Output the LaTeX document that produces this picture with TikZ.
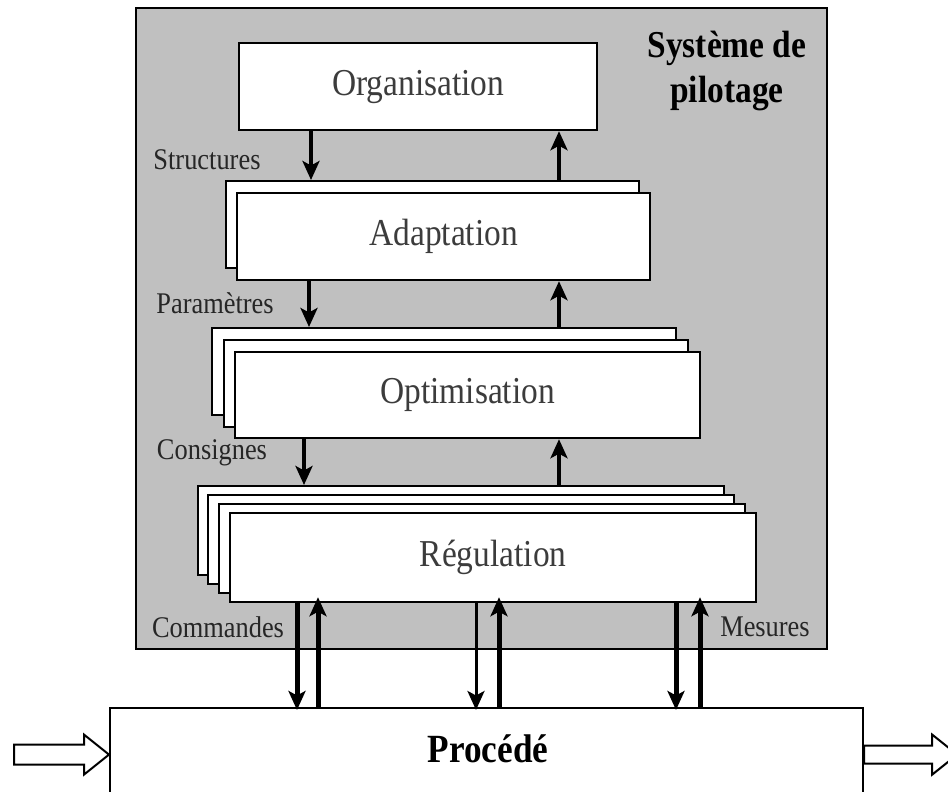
\documentclass[tikz,border=0pt]{standalone}
\usepackage{fontspec}
\setmainfont{Liberation Serif}[FakeStretch=0.88]
\usetikzlibrary{arrows.meta,calc}
\definecolor{panelgray}{RGB}{192,192,192}
\definecolor{labelgray}{RGB}{60,60,60}
\begin{document}
\begin{tikzpicture}[x=1pt,y=-1pt,
  box/.style={draw=black,fill=white,line width=2.2pt,inner sep=0pt,anchor=north west,
    text=labelgray,font=\fontsize{38}{42}\selectfont},
  panel/.style={draw=black,fill=panelgray,line width=2.2pt},
  lbl/.style={text=black!85,font=\fontsize{30}{34}\selectfont,inner sep=0pt},
  blbl/.style={font=\bfseries\fontsize{38}{45}\selectfont,align=center,inner sep=0pt},
  tip/.style={-{Stealth[length=19pt,width=17pt,inset=4.5pt]}},
  arr/.style={tip,line width=3.5pt},
  thickarr/.style={tip,line width=5pt},
  thinarr/.style={tip,line width=3pt},
  hollow/.style={draw=black,fill=white,line width=2pt,line join=miter}]
\useasboundingbox (0,0) rectangle (948,792);
\fill[white] (0,0) rectangle (948,792);
% control system panel
\draw[panel] (136,8) rectangle (827,649);
\node[blbl] (title) at (727,71) {Système de\\pilotage};
% Organisation
\node[box,minimum width=358pt,minimum height=87pt] (org) at (238,42) {Organisation};
% Adaptation stack
\node[box,minimum width=413pt,minimum height=87pt] (adab) at (225,180) {};
\node[box,minimum width=413pt,minimum height=87pt] (ada) at (236,192) {Adaptation};
% Optimisation stack
\node[box,minimum width=464pt,minimum height=87pt] (optb) at (211,327) {};
\node[box,minimum width=464pt,minimum height=87pt] (optm) at (223,339) {};
\node[box,minimum width=465pt,minimum height=86pt] (opt) at (234,351) {Optimisation};
% Regulation stack
\node[box,minimum width=526pt,minimum height=89pt] (regb) at (197,485) {};
\node[box,minimum width=526pt,minimum height=89pt] (reg3) at (207,494) {};
\node[box,minimum width=526pt,minimum height=89pt] (reg2) at (218,503) {};
\node[box,minimum width=526pt,minimum height=89pt] (reg) at (229,512) {Régulation};
% Procede
\node[draw=black,fill=white,line width=2.2pt,anchor=north west,minimum width=753pt,
  minimum height=93pt,inner sep=0pt] (proc) at (109,707) {};
\node[font=\bfseries\fontsize{40}{44}\selectfont,inner sep=0pt] (proctxt) at (488,749) {Procédé};
% labels
\node[lbl] (lstr) at (207,160) {Structures};
\node[lbl] (lpar) at (215,303) {Paramètres};
\node[lbl] (lcon) at (212,453) {Consignes};
\node[lbl] (lcom) at (218,627) {Commandes};
\node[lbl] (lmes) at (765,627) {Mesures};
% arrows between levels
\draw[arr] (org.south -| 311,0) -- (adab.north -| 311,0);
\draw[arr] (adab.north -| 559,0) -- (org.south -| 559,0);
\draw[arr] (ada.south -| 309,0) -- (optb.north -| 309,0);
\draw[arr] (optb.north -| 559,0) -- (ada.south -| 559,0);
\draw[arr] (opt.south -| 304,0) -- (regb.north -| 304,0);
\draw[arr] (regb.north -| 559,0) -- (opt.south -| 559,0);
% arrows to/from process
\draw[thickarr,shorten >=-3pt] (reg.south -| 297,0) -- (proc.north -| 297,0);
\draw[thickarr,shorten >=-6pt] (proc.north -| 318,0) -- (reg.south -| 318,0);
\draw[thinarr,shorten >=-3pt] (reg.south -| 476,0) -- (proc.north -| 476,0);
\draw[thickarr,shorten >=-6pt] (proc.north -| 499,0) -- (reg.south -| 499,0);
\draw[thickarr,shorten >=-3pt] (reg.south -| 676,0) -- (proc.north -| 676,0);
\draw[thickarr,shorten >=-6pt] (proc.north -| 700,0) -- (reg.south -| 700,0);
% hollow input / output arrows
\draw[hollow] (proc.west) -- ++(-25,-20) -- ++(0,10) -- ++(-70,0) -- ++(0,20)
  -- ++(70,0) -- ++(0,10) -- cycle;
\draw[hollow] (proc.east) ++(0,-9) -- ++(68,0) -- ++(0,-11) -- ++(25,20) -- ++(-25,20)
  -- ++(0,-11) -- ++(-68,0) -- cycle;
\end{tikzpicture}
\end{document}
